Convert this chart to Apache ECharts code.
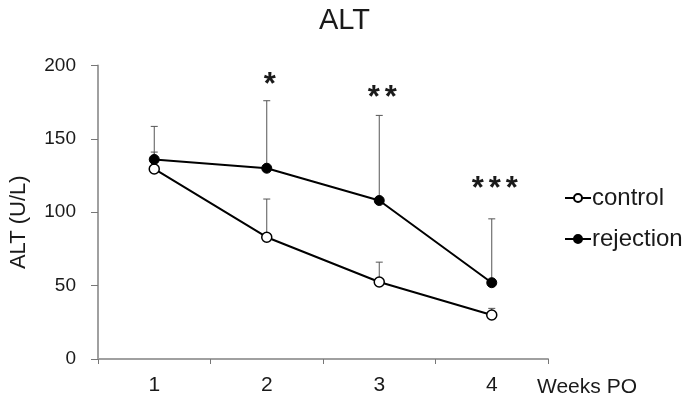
<!DOCTYPE html>
<html>
<head>
<meta charset="utf-8">
<script src="https://cdn.jsdelivr.net/npm/echarts@6/dist/echarts.min.js"></script>
<style>
  html, body { margin: 0; padding: 0; background: #fff; }
  #chart { width: 689px; height: 400px; }
</style>
</head>
<body>
<div id="chart"></div>
<script>
// ========== 数据 ==========
const weeks = ["1", "2", "3", "4"];
const controlMean = [129.5, 83, 52.5, 30];
const controlSD = [11.5, 26, 13.5, 4.5];
const rejectionMean = [136, 130, 108, 52];
const rejectionSD = [22.5, 46, 58, 43.5];
const sigMarks = ["", "*", "**", "***"];
const sigY = [null, 191.5, 182.5, 120];
const yTicks = [0, 50, 100, 150, 200];

const FONT = "Liberation Sans";
const INK = "#1a1a1a";
const AXIS = "#a0a0a0";

// 误差线（仅上半部分）
function errorSeries(mean, sd) {
  return {
    type: "custom",
    z: 1,
    silent: true,
    data: mean.map((m, i) => [i, m, m + sd[i]]),
    renderItem: (params, api) => {
      const base = api.coord([api.value(0), api.value(1)]);
      const top = api.coord([api.value(0), api.value(2)]);
      const style = { stroke: "#555", lineWidth: 1 };
      return {
        type: "group",
        children: [
          { type: "line", shape: { x1: base[0], y1: base[1], x2: top[0], y2: top[1] }, style },
          { type: "line", shape: { x1: top[0] - 3.5, y1: top[1], x2: top[0] + 3.5, y2: top[1] }, style },
        ],
      };
    },
  };
}

const chart = echarts.init(document.getElementById("chart"));

chart.setOption({
  animation: false,
  textStyle: { fontFamily: FONT, color: INK },
  title: {
    text: "ALT",
    left: "center",
    top: 1,
    textStyle: { fontFamily: FONT, fontSize: 29, fontWeight: "normal", color: INK },
  },
  legend: {
    orient: "vertical",
    left: 559,
    top: 181,
    itemWidth: 26,
    itemHeight: 10,
    itemGap: 17,
    textStyle: { fontFamily: FONT, fontSize: 24, color: INK, padding: [0, 0, 0, -4] },
    data: ["control", "rejection"],
  },
  grid: { left: 95, right: 141, top: 65.5, bottom: 41 },
  xAxis: {
    type: "category",
    data: weeks,
    boundaryGap: true,
    name: "Weeks PO",
    nameLocation: "end",
    nameGap: -11,
    nameTextStyle: {
      fontFamily: FONT,
      fontSize: 21,
      color: INK,
      align: "left",
      verticalAlign: "top",
      lineHeight: 21,
      padding: [18, 0, 0, 0],
    },
    axisLine: { lineStyle: { color: AXIS, width: 2 } },
    axisTick: { show: true, length: 5, lineStyle: { color: "#777" } },
    axisLabel: { fontFamily: FONT, fontSize: 21, color: INK, margin: 16 },
  },
  yAxis: {
    type: "value",
    min: yTicks[0],
    max: yTicks[yTicks.length - 1],
    interval: 50,
    name: "ALT (U/L)",
    nameLocation: "middle",
    nameGap: 68,
    nameRotate: 90,
    nameTextStyle: { fontFamily: FONT, fontSize: 22, color: INK, padding: [0, 20, 0, 0] },
    axisLine: { show: true, lineStyle: { color: AXIS, width: 2 } },
    axisTick: { show: true, length: 7, lineStyle: { color: "#777" } },
    axisLabel: { fontFamily: FONT, fontSize: 19, color: INK, margin: 22 },
    splitLine: { show: false },
  },
  series: [
    errorSeries(controlMean, controlSD),
    errorSeries(rejectionMean, rejectionSD),
    {
      name: "control",
      type: "line",
      z: 3,
      data: controlMean,
      symbol: "circle",
      symbolSize: 10,
      showAllSymbol: true,
      lineStyle: { color: "#000", width: 2 },
      itemStyle: { color: "#fff", borderColor: "#000", borderWidth: 1.5 },
    },
    {
      name: "rejection",
      type: "line",
      z: 4,
      data: rejectionMean,
      symbol: "circle",
      symbolSize: 10,
      showAllSymbol: true,
      lineStyle: { color: "#000", width: 2 },
      itemStyle: { color: "#000", borderColor: "#000", borderWidth: 1 },
    },
    {
      // 显著性星号
      type: "custom",
      z: 5,
      silent: true,
      data: sigY.map((y, i) => [i, y, sigMarks[i].length]),
      renderItem: (params, api) => {
        const n = api.value(2);
        if (!n) return null;
        const p = api.coord([api.value(0), api.value(1)]);
        const children = [];
        for (let k = 0; k < n; k++) {
          children.push({
            type: "text",
            style: {
              text: "*",
              x: p[0] + 3 + (k - (n - 1) / 2) * 17,
              y: p[1] + 7,
              align: "center",
              verticalAlign: "middle",
              font: "bold 31px " + FONT,
              fill: INK,
            },
          });
        }
        return { type: "group", children };
      },
    },
  ],
});

window.addEventListener("resize", () => chart.resize());
</script>
</body>
</html>
